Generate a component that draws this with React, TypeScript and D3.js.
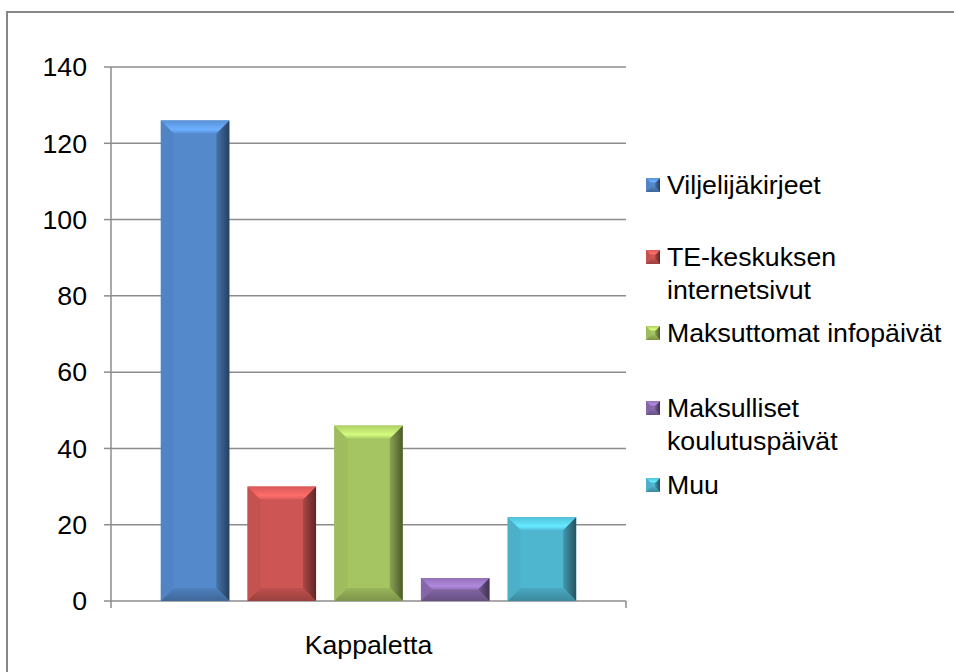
import * as d3 from 'd3';

const categories = ['Kappaletta'];
const seriesNames = [
  'Viljelijäkirjeet',
  'TE-keskuksen internetsivut',
  'Maksuttomat infopäivät',
  'Maksulliset koulutuspäivät',
  'Muu',
];
const seriesValues = [126, 30, 46, 6, 22];
const seriesColors = ['#5489CC', '#CD5553', '#A5C462', '#8A6BAE', '#4FB6D0'];
const legendLines = [
  ['Viljelijäkirjeet'],
  ['TE-keskuksen', 'internetsivut'],
  ['Maksuttomat infopäivät'],
  ['Maksulliset', 'koulutuspäivät'],
  ['Muu'],
];
const yTicks = [0, 20, 40, 60, 80, 100, 120, 140];

const W = 954;
const H = 672;
const plot = { left: 111, right: 626, top: 67, bottom: 601 };
const font = '"Liberation Sans", Arial, sans-serif';
const fs = 26.7;

function Bevel({ id, x, y, w, h, color, b0 = 13 }: { id: string; x: number; y: number; w: number; h: number; color: string; b0?: number }) {
  const b = Math.min(b0, h / 2, w / 2);
  const c = d3.color(color)!;
  const light = c.brighter(0.7).formatHex();
  const mid = c.brighter(0.15).formatHex();
  const dark = c.darker(0.5).formatHex();
  const darker = c.darker(2.2).formatHex();
  const x2 = x + w;
  const y2 = y + h;
  return (
    <g>
      <defs>
        <linearGradient id={`t${id}`} x1="0" y1="0" x2="0" y2="1">
          <stop offset="0" stopColor={mid} />
          <stop offset="0.7" stopColor={light} />
          <stop offset="1" stopColor={mid} />
        </linearGradient>
        <linearGradient id={`r${id}`} x1="0" y1="0" x2="1" y2="0">
          <stop offset="0" stopColor={dark} />
          <stop offset="1" stopColor={darker} />
        </linearGradient>
        <linearGradient id={`b${id}`} x1="0" y1="0" x2="0" y2="1">
          <stop offset="0" stopColor={c.darker(0.2).formatHex()} />
          <stop offset="1" stopColor={c.darker(0.8).formatHex()} />
        </linearGradient>
      </defs>
      <rect x={x} y={y} width={w} height={h} fill={color} />
      <polygon points={`${x},${y} ${x + b},${y + b} ${x + b},${y2 - b} ${x},${y2}`} fill={c.darker(0.1).formatHex()} />
      <polygon points={`${x2},${y} ${x2},${y2} ${x2 - b},${y2 - b} ${x2 - b},${y + b}`} fill={`url(#r${id})`} />
      <polygon points={`${x},${y2} ${x + b},${y2 - b} ${x2 - b},${y2 - b} ${x2},${y2}`} fill={`url(#b${id})`} />
      <polygon points={`${x},${y} ${x2},${y} ${x2 - b},${y + b} ${x + b},${y + b}`} fill={`url(#t${id})`} />
    </g>
  );
}

export default function App() {
  const y = d3.scaleLinear().domain([0, 140]).range([plot.bottom, plot.top]);
  const x0 = d3.scaleBand().domain(categories).range([plot.left, plot.right]).paddingInner(0).paddingOuter(0.12);
  const x1 = d3
    .scaleBand()
    .domain(seriesNames)
    .range([0, x0.bandwidth()])
    .paddingInner(0.21)
    .paddingOuter(0);

  const legendY = [185, 257, 333, 408, 485];

  return (
    <svg width={W} height={H} style={{ position: 'absolute', left: 0, top: 0, background: '#fff' }}>
      <rect x={7} y={12} width={W + 10} height={H + 10} fill="#fff" stroke="#868686" strokeWidth={2} />
      {yTicks.map((t) => (
        <g key={t}>
          {t > 0 && (
            <line x1={plot.left} x2={plot.right} y1={y(t)} y2={y(t)} stroke="#8C8C8C" strokeWidth={1.5} />
          )}
          <line x1={104} x2={plot.left} y1={y(t)} y2={y(t)} stroke="#8C8C8C" strokeWidth={1.5} />
          <text x={87} y={y(t)} dy="0.35em" textAnchor="end" fontFamily={font} fontSize={fs} fill="#000">
            {t}
          </text>
        </g>
      ))}
      <line x1={plot.left} x2={plot.left} y1={plot.top} y2={plot.bottom + 7} stroke="#8C8C8C" strokeWidth={1.5} />
      <line x1={plot.left} x2={plot.right} y1={plot.bottom} y2={plot.bottom} stroke="#8C8C8C" strokeWidth={1.5} />
      <line x1={plot.right} x2={plot.right} y1={plot.bottom} y2={plot.bottom + 7} stroke="#8C8C8C" strokeWidth={1.5} />
      {categories.map((cat) => (
        <g key={cat}>
          {seriesNames.map((s, i) => {
            const bx = (x0(cat) || 0) + (x1(s) || 0);
            const by = y(seriesValues[i]);
            return (
              <Bevel key={s} id={`bar${i}`} x={bx} y={by} w={x1.bandwidth()} h={plot.bottom - by} color={seriesColors[i]} />
            );
          })}
          <text
            x={(x0(cat) || 0) + x0.bandwidth() / 2}
            y={645}
            dy="0.35em"
            textAnchor="middle"
            fontFamily={font}
            fontSize={fs}
          >
            {cat}
          </text>
        </g>
      ))}
      {legendLines.map((lines, i) => (
        <g key={i} transform={`translate(646,${legendY[i]})`}>
          <Bevel id={`leg${i}`} x={0} y={-7} w={14} h={14} color={seriesColors[i]} b0={5} />
          {lines.map((l, j) => (
            <text key={j} x={21} y={j * 33} dy="0.35em" fontFamily={font} fontSize={fs} fill="#000">
              {l}
            </text>
          ))}
        </g>
      ))}
    </svg>
  );
}
